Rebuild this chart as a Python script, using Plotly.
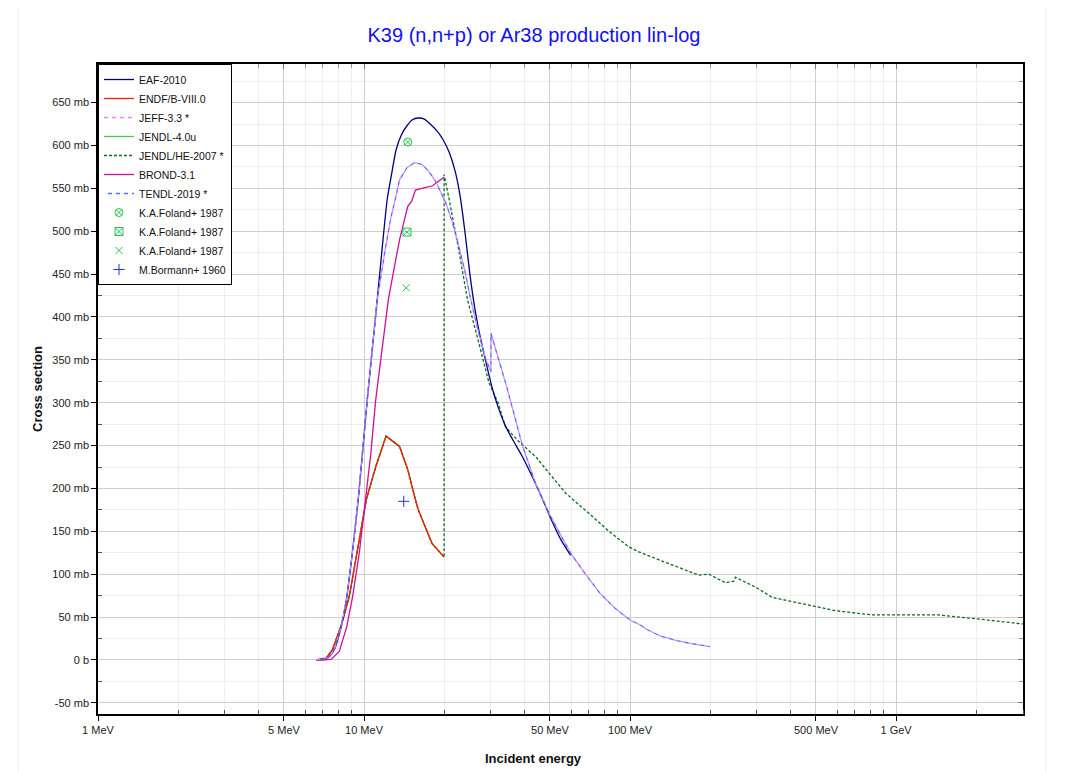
import math
import plotly.graph_objects as go

# ---------------- data (energies in MeV, cross sections in mb) ----------------
title_text = "K39 (n,n+p) or Ar38 production lin-log"

eaf_e = [6.6, 7.0, 7.4, 7.73, 8.2, 8.58, 9.0, 9.51, 10.28, 11.21, 11.7, 12.22, 12.7, 13.2,
         13.8, 14.5, 15.2, 16.0, 16.8, 17.6, 18.8, 19.8, 20.9, 22.0, 23.0, 24.0, 25.0, 26.0,
         27.0, 28.6, 30.4, 32.0, 34.0, 36.5, 39.4, 45.3, 51.2, 55.0, 59.8]
eaf_xs = [0, 1, 4, 12, 38, 70, 120, 187, 303, 420, 480, 537, 567, 595,
          612, 623, 630, 632, 631, 626, 617, 607, 592, 570, 540, 497, 450, 413,
          385, 350, 316, 294, 273, 255, 237, 198, 160, 140, 122]

endf_e = [6.6, 7.2, 7.61, 8.2, 8.8, 10.2, 11.06, 12.1, 13.6, 14.6, 15.6, 16.0, 18.0, 20.0]
endf_xs = [0, 2, 12, 40, 74, 187, 225, 261, 249, 222, 187, 175, 136, 120]

jeff_e = [6.6, 7.0, 7.4, 7.73, 8.2, 8.58, 9.0, 9.51, 10.28, 11.21, 12.0, 12.6, 13.1, 13.6,
          14.5, 15.5, 16.5, 17.5, 18.6, 20.3, 21.5, 22.7, 24.0, 25.2, 26.8, 28.6, 30.0, 30.0,
          34.5, 39.4, 44.0, 49.6, 55.0, 59.8, 68.0, 77.0, 88.0, 100.0, 109.0, 115.0, 130.0,
          150.0, 168.0, 200.0]
jeff_xs = [0, 1, 4, 12, 38, 70, 120, 187, 303, 420, 478, 515, 537, 560,
           574, 580, 578, 570, 558, 533, 510, 483, 452, 420, 385, 352, 336, 381,
           317, 250, 207, 171, 145, 124.5, 100, 78, 60, 46.7, 41, 36, 28,
           22.5, 19.4, 15.5]

tendl_e = list(jeff_e)
tendl_xs = list(jeff_xs)

jendl4_e = list(endf_e)
jendl4_xs = list(endf_xs)

jendlhe_e = endf_e + [20.0, 20.9, 22.7, 24.5, 27.0, 29.5, 31.9, 34.0, 38.1, 44.2, 49.6, 57.3,
                      70.0, 83.4, 98.8, 108.0, 124.0, 144.0, 157.0, 181.0, 198.0, 228.5, 245.6,
                      249.0, 300.0, 342.0, 470.0, 591.0, 812.0, 1445.0, 1928.0, 3000.0]
jendlhe_xs = endf_xs + [566, 537, 478, 420, 370, 323, 300, 272, 255, 237, 218, 194.5,
                        171, 150, 132, 126, 118.6, 111, 107, 99, 100, 90, 92,
                        96.5, 84, 73, 64, 57.5, 52.5, 52.5, 48.6, 42]

brond_e = [6.6, 7.0, 7.54, 8.07, 8.6, 9.06, 9.6, 10.16, 10.6, 11.06, 11.7, 12.34, 13.0, 13.6,
           14.1, 14.6, 15.1, 15.6, 16.5, 17.4, 18.1, 18.6, 20.0]
brond_xs = [0, 0, 1, 10, 38, 74, 125, 187, 240, 303, 365, 420, 458, 490,
            510, 529, 535, 548, 550, 552, 553, 556, 563]

foland1_e = [14.6]
foland1_xs = [604]
foland2_e = [14.5]
foland2_xs = [499]
foland3_e = [14.4]
foland3_xs = [434]
bormann_e = [14.1]
bormann_xs = [185]

x_tickvals = [1, 5, 10, 50, 100, 500, 1000]
x_ticktext = ["1 MeV", "5 MeV", "10 MeV", "50 MeV", "100 MeV", "500 MeV", "1 GeV"]
x_minorvals = [2, 3, 4, 6, 7, 8, 9, 20, 30, 40, 60, 70, 80, 90,
               200, 300, 400, 600, 700, 800, 900, 2000, 3000]
y_tickvals = list(range(-50, 651, 50))
y_ticktext = ["0 b" if v == 0 else f"{v} mb" for v in y_tickvals]
y_minorvals = list(range(-25, 700, 50))

x_range = [0, math.log10(3000)]
y_range = [-63, 695]

# page body has an 8px default margin: figure is sized/offset to compensate
FIG_W, FIG_H, OFF = 1063, 764, 8

# ---------------- figure ----------------
fig = go.Figure()


def add_line(name, e, xs, color, dash, rank, width=1.3, shape="linear"):
    fig.add_trace(go.Scatter(x=e, y=xs, mode="lines", name=name, legendrank=rank,
                             line=dict(color=color, width=width, dash=dash, shape=shape,
                                       smoothing=0.6)))


def add_points(name, e, xs, color, symbol, size, rank):
    fig.add_trace(go.Scatter(x=e, y=xs, mode="markers", name=name, legendrank=rank,
                             marker=dict(color=color, symbol=symbol, size=size,
                                         line=dict(color=color, width=1))))


add_line("JENDL-4.0u", jendl4_e, jendl4_xs, "#44cc44", "solid", 4)
add_line("JENDL/HE-2007 *", jendlhe_e, jendlhe_xs, "#0b6e1f", "3px,2px", 5)
add_line("ENDF/B-VIII.0", endf_e, endf_xs, "#ff1a00", "solid", 2)
add_line("EAF-2010", eaf_e, eaf_xs, "#000080", "solid", 1, shape="spline")
add_line("BROND-3.1", brond_e, brond_xs, "#cc1199", "solid", 6)
add_line("JEFF-3.3 *", jeff_e, jeff_xs, "#ff77ff", "4px,4px", 3)
add_line("TENDL-2019 *", tendl_e, tendl_xs, "#4477ee", "0px,4px,4px,0px", 7)

add_points("K.A.Foland+ 1987", foland1_e, foland1_xs, "#22c44a", "circle-x-open", 8, 8)
add_points("K.A.Foland+ 1987", foland2_e, foland2_xs, "#22c44a", "square-x-open", 8, 9)
add_points("K.A.Foland+ 1987", foland3_e, foland3_xs, "#22c44a", "x-thin-open", 7, 10)
add_points("M.Bormann+ 1960", bormann_e, bormann_xs, "#2233ee", "cross-thin-open", 8, 11)

# helper trace for mirrored top/right axes
fig.add_trace(go.Scatter(x=[10], y=[0], xaxis="x2", yaxis="y2", mode="markers",
                         marker=dict(opacity=0), showlegend=False, hoverinfo="skip"))

tick_font = dict(family="Arial", size=11, color="#222222")

fig.update_layout(
    width=FIG_W, height=FIG_H,
    margin=dict(l=98 - OFF, r=OFF + FIG_W - 1023, t=64 - OFF, b=OFF + FIG_H - 714),
    paper_bgcolor="white", plot_bgcolor="white",
    title=dict(text=title_text, x=(534 - OFF) / FIG_W, xref="container", xanchor="center",
               y=1 - (35 - OFF) / FIG_H, yanchor="middle",
               font=dict(family="Arial", size=20, color="#1111ee")),
    showlegend=True,
    legend=dict(x=0, y=1, xanchor="left", yanchor="top", bgcolor="white",
                bordercolor="black", borderwidth=1, itemwidth=30,
                font=dict(family="Arial", size=10.5, color="#111111"),
                tracegroupgap=0),
    xaxis=dict(type="log", range=x_range, tickvals=x_tickvals, ticktext=x_ticktext,
               tickfont=tick_font, ticks="outside", ticklen=5, tickcolor="black",
               showline=True, linecolor="black", linewidth=1.5, mirror=True,
               showgrid=True, gridcolor="#cfcfcf", gridwidth=1, zeroline=False,
               minor=dict(tickvals=x_minorvals, ticks="inside", ticklen=4,
                          tickcolor="#555555", showgrid=True, gridcolor="#eeeeee",
                          gridwidth=1)),
    yaxis=dict(range=y_range, tickvals=y_tickvals, ticktext=y_ticktext,
               tickfont=tick_font, ticks="outside", ticklen=5, tickcolor="black",
               showline=True, linecolor="black", linewidth=1.5, mirror=True,
               showgrid=True, gridcolor="#cfcfcf", gridwidth=1, zeroline=False,
               minor=dict(tickvals=y_minorvals, ticks="inside", ticklen=4,
                          tickcolor="#555555", showgrid=True, gridcolor="#eeeeee",
                          gridwidth=1)),
    xaxis2=dict(type="log", range=x_range, overlaying="x", side="top", anchor="y",
                tickvals=x_tickvals, showticklabels=False, ticks="inside", ticklen=5,
                tickcolor="#777777", showgrid=False, zeroline=False, showline=False,
                minor=dict(tickvals=x_minorvals, ticks="inside", ticklen=4,
                           tickcolor="#999999", showgrid=False)),
    yaxis2=dict(range=y_range, overlaying="y", side="right", anchor="x",
                tickvals=y_tickvals, showticklabels=False, ticks="inside", ticklen=5,
                tickcolor="#777777", showgrid=False, zeroline=False, showline=False,
                minor=dict(tickvals=y_minorvals, ticks="inside", ticklen=4,
                           tickcolor="#999999", showgrid=False)),
    annotations=[
        dict(text="<b>Incident energy</b>", xref="paper", yref="paper",
             x=(533 - 98) / 925, y=-(758 - 714) / 650, xanchor="center", yanchor="middle",
             showarrow=False, font=dict(family="Arial", size=13, color="#111111")),
        dict(text="<b>Cross section</b>", xref="paper", yref="paper",
             x=(37 - 98) / 925, y=0.5, xanchor="center", yanchor="middle", textangle=-90,
             showarrow=False, font=dict(family="Arial", size=13, color="#111111")),
    ],
    shapes=[
        dict(type="rect", xref="paper", yref="paper",
             x0=(18 - 98) / 925, x1=(1046 - 98) / 925, y0=-0.2, y1=(714 - 5) / 650,
             line=dict(color="#eeeeee", width=1), fillcolor="rgba(0,0,0,0)", layer="below"),
    ],
)

fig.write_html("out.html")
